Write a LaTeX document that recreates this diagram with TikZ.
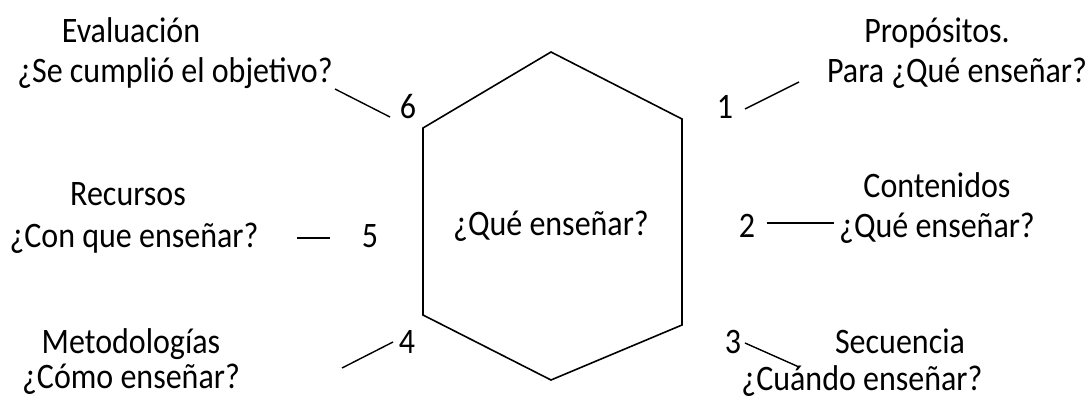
\documentclass[tikz,border=0pt]{standalone}
\usepackage{fontspec}
\usepackage{graphicx}
\setmainfont{Carlito}
\newcommand{\mystretch}[1]{\scalebox{1}[1.12]{#1}}
\begin{document}
\begin{tikzpicture}[x=1pt,y=-1pt,
  lbl/.style={anchor=base,inner sep=0pt,font=\fontsize{32}{32}\selectfont},
  conn/.style={line width=1.4pt},
  hexline/.style={line width=1.6pt,line join=miter}]
\useasboundingbox (0,0) rectangle (1089,399);
% hexagon
\coordinate (h1) at (551,52);
\coordinate (h2) at (682,119);
\coordinate (h3) at (682,325);
\coordinate (h4) at (551,380);
\coordinate (h5) at (423,315);
\coordinate (h6) at (423,128);
\draw[hexline] (h1) -- (h2) -- (h3) -- (h4) -- (h5) -- (h6) -- cycle;
\node[lbl] (center) at (551,235) {\mystretch{¿Qué enseñar?}};
% 1
\node[lbl] (n1) at (725,118) {\mystretch{1}};
\node[lbl] (t1a) at (937,42) {\mystretch{Propósitos.}};
\node[lbl] (t1b) at (957,82) {\mystretch{Para ¿Qué enseñar?}};
\coordinate (a1) at (745,109); \coordinate (b1) at (799,82);
\draw[conn] (a1) -- (b1);
% 2
\node[lbl] (n2) at (747,237) {\mystretch{2}};
\node[lbl] (t2a) at (937,197) {\mystretch{Contenidos}};
\node[lbl] (t2b) at (937,237) {\mystretch{¿Qué enseñar?}};
\coordinate (a2) at (767,223); \coordinate (b2) at (834,223);
\draw[conn] (a2) -- (b2);
% 3
\node[lbl] (n3) at (733,353) {\mystretch{3}};
\node[lbl] (t3a) at (900,353) {\mystretch{Secuencia}};
\node[lbl] (t3b) at (862,390) {\mystretch{¿Cuándo enseñar?}};
\coordinate (a3) at (745,343); \coordinate (b3) at (799,367);
\draw[conn] (a3) -- (b3);
% 4
\node[lbl] (n4) at (407,353) {\mystretch{4}};
\node[lbl] (t4a) at (131,353) {\mystretch{Metodologías}};
\node[lbl] (t4b) at (131,388) {\mystretch{¿Cómo enseñar?}};
\coordinate (a4) at (342,368); \coordinate (b4) at (393,342);
\draw[conn] (a4) -- (b4);
% 5
\node[lbl] (n5) at (370,247) {\mystretch{5}};
\node[lbl] (t5a) at (128,205) {\mystretch{Recursos}};
\node[lbl] (t5b) at (134,247) {\mystretch{¿Con que enseñar?}};
\coordinate (a5) at (297,238); \coordinate (b5) at (330,238);
\draw[conn] (a5) -- (b5);
% 6
\node[lbl] (n6) at (408,118) {\mystretch{6}};
\node[lbl] (t6a) at (131,42) {\mystretch{Evaluación}};
\node[lbl] (t6b) at (175,82) {\mystretch{¿Se cumplió el objetivo?}};
\coordinate (a6) at (335,89); \coordinate (b6) at (390,117);
\draw[conn] (a6) -- (b6);
\end{tikzpicture}
\end{document}
